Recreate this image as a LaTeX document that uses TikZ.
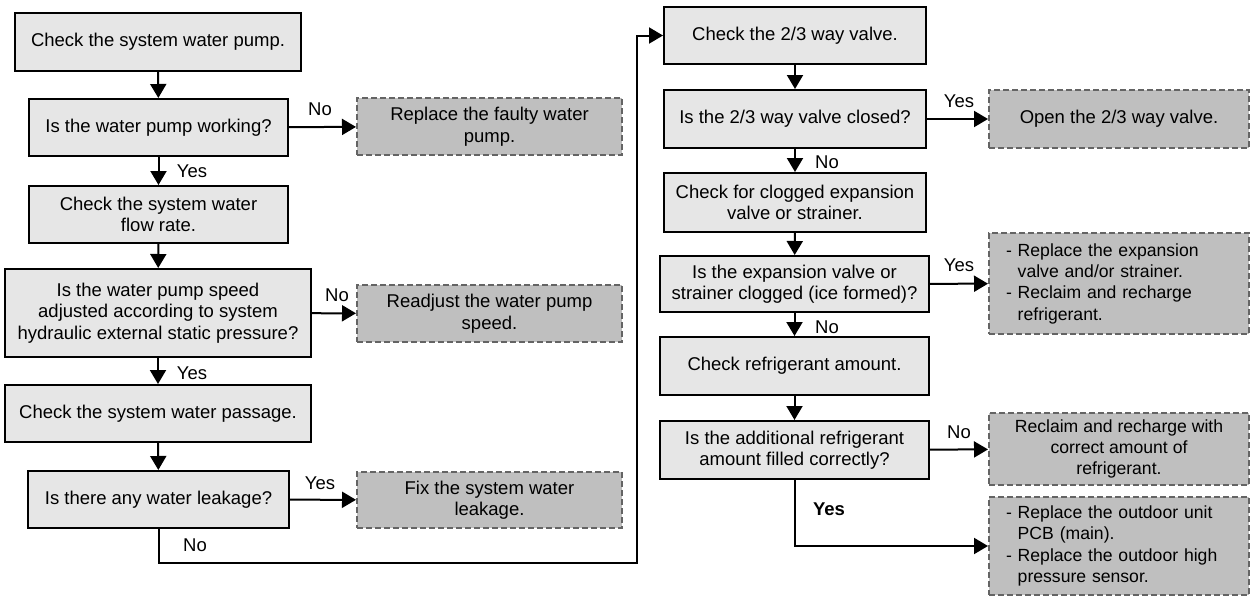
\documentclass[tikz,border=0pt]{standalone}
\usepackage{fontspec}
\setmainfont{Liberation Sans}
\usetikzlibrary{arrows.meta}
\definecolor{procfill}{HTML}{E6E6E6}
\definecolor{actfill}{HTML}{BFBFBF}
\definecolor{actdraw}{HTML}{646464}
\newcommand{\fs}{\fontsize{18.5}{21.5}\selectfont}
\newcommand{\fss}{\fontsize{17.6}{21.3}\selectfont}
\tikzset{
  proc/.style={draw=black, line width=2pt, fill=procfill, align=center, inner sep=0pt, font=\fs},
  act/.style={draw=actdraw, line width=2pt, dash pattern=on 6pt off 3pt, fill=actfill, align=center, inner sep=0pt, font=\fs, minimum width=260pt},
  arr/.style={line width=2pt, -{Triangle[length=14pt,width=16pt]}},
  lbl/.style={font=\fs, inner sep=0pt}
}
\begin{document}
\begin{tikzpicture}[x=1pt,y=-1pt]
\useasboundingbox (0,0) rectangle (1251,597);
% left column
\node[proc, minimum width=286pt, minimum height=58pt] (b1) at (158,42) {Check the system water pump.};
\node[proc, minimum width=259pt, minimum height=57pt] (b2) at (158.5,127.5) {Is the water pump working?};
\node[proc, minimum width=259pt, minimum height=57pt] (b3) at (158.5,214.5) {Check the system water\\flow rate.};
\node[proc, minimum width=306pt, minimum height=88pt] (b4) at (158,313) {Is the water pump speed\\adjusted according to system\\hydraulic external static pressure?};
\node[proc, minimum width=306pt, minimum height=57pt] (b5) at (158,413.5) {Check the system water passage.};
\node[proc, minimum width=261pt, minimum height=57pt] (b6) at (158.5,499.5) {Is there any water leakage?};
% left actions
\node[act, minimum width=265pt, minimum height=57pt] (r1) at (489.5,126.5) {Replace the faulty water\\pump.};
\node[act, minimum width=265pt, minimum height=57pt] (r2) at (489.5,313.5) {Readjust the water pump\\speed.};
\node[act, minimum width=265pt, minimum height=56pt] (r3) at (489.5,500) {Fix the system water\\leakage.};
% right column
\node[proc, minimum width=262pt, minimum height=57pt] (b7) at (795,35.5) {Check the 2/3 way valve.};
\node[proc, minimum width=262pt, minimum height=58pt] (b8) at (795,119) {Is the 2/3 way valve closed?};
\node[proc, minimum width=262pt, minimum height=59pt] (b9) at (795,202.5) {Check for clogged expansion\\valve or strainer.};
\node[proc, minimum width=269pt, minimum height=56pt] (b10) at (794.5,284) {Is the expansion valve or\\strainer clogged (ice formed)?};
\node[proc, minimum width=269pt, minimum height=58pt] (b11) at (794.5,366) {Check refrigerant amount.};
\node[proc, minimum width=269pt, minimum height=58pt] (b12) at (794.5,450) {Is the additional refrigerant\\amount filled correctly?};
% right actions
\node[act, minimum height=58pt] (d1) at (1119,119) {Open the 2/3 way valve.};
\node[act, minimum height=101pt, align=left, text width=226pt, font=\fss] (d2) at (1119,283.5) {- Replace the expansion\\\hphantom{- }valve and/or strainer.\\- Reclaim and recharge\\\hphantom{- }refrigerant.};
\node[act, minimum height=72pt, font=\fss] (d3) at (1119,449) {Reclaim and recharge with\\correct amount of\\refrigerant.};
\node[act, minimum height=98pt, align=left, text width=226pt, font=\fss] (d4) at (1119,546) {- Replace the outdoor unit\\\hphantom{- }PCB (main).\\- Replace the outdoor high\\\hphantom{- }pressure sensor.};
% connectors left
\draw[arr] (b1) -- (b2);
\draw[arr] (b2) -- (b3);
\draw[arr] (b3) -- (b4);
\draw[arr] (b4) -- (b5);
\draw[arr] (b5) -- (b6);
\draw[arr] (b2) -- (r1);
\draw[arr] (b4) -- (r2);
\draw[arr] (b6) -- (r3);
\coordinate (c1) at (637,563);
\draw[arr] (b6.south) |- (c1) |- (b7.west);
% connectors right
\draw[arr] (b7) -- (b8);
\draw[arr] (b8) -- (b9);
\draw[arr] (b9) -- (b10);
\draw[arr] (b10) -- (b11);
\draw[arr] (b11) -- (b12);
\draw[arr] (b8) -- (d1);
\draw[arr] (b10) -- (d2);
\draw[arr] (b12) -- (d3);
\draw[arr] (b12.south) |- (d4.west);
% labels
\node[lbl] (l1) at (320,109) {No};
\node[lbl] (l2) at (192,171) {Yes};
\node[lbl] (l3) at (337,295) {No};
\node[lbl] (l4) at (192,373) {Yes};
\node[lbl] (l5) at (320,483) {Yes};
\node[lbl] (l6) at (195,545) {No};
\node[lbl] (l7) at (959,101) {Yes};
\node[lbl] (l8) at (827,162) {No};
\node[lbl] (l9) at (959,265) {Yes};
\node[lbl] (l10) at (827,327) {No};
\node[lbl] (l11) at (959,432) {No};
\node[lbl, font=\fs\bfseries] (l12) at (829,509) {Yes};
\end{tikzpicture}
\end{document}
